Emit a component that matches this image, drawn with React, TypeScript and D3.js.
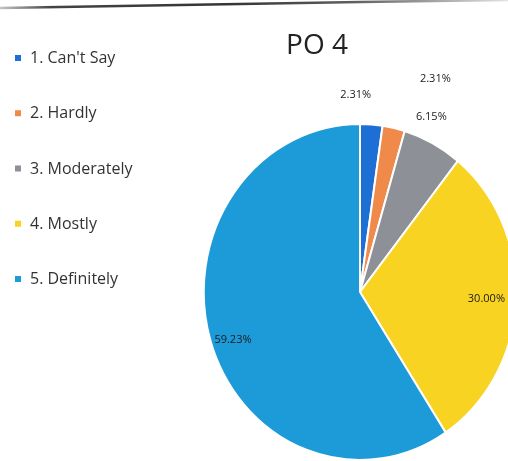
import React from "react";
import * as d3 from "d3";

const categories = ["1. Can't Say", "2. Hardly", "3. Moderately", "4. Mostly", "5. Definitely"];
const values = [2.31, 2.31, 6.15, 30.0, 59.23];
const valueLabels = ["2.31%", "2.31%", "6.15%", "30.00%", "59.23%"];
const colors = ["#1d6fd6", "#ef8a4a", "#8e9098", "#f8d322", "#1d9bd8"];
const title = "PO 4";

// label placement (fraction of radius, angle shift in degrees) — Excel best-fit style
const labelRadiusFrac = [1.18, 1.36, 1.14, 0.81, 0.86];
const labelAngleShift = [-5.5, 8.3, -4.1, 0, -2.4];

const W = 508;
const H = 461;

export default function App() {
  const cx = 360;
  const cy = 292;
  const r = 168;
  const sx = 0.93;

  const pie = d3
    .pie<number>()
    .sort(null)
    .value((d) => d)
    .startAngle(0)
    .endAngle(2 * Math.PI);
  const arcs = pie(values);
  const arc = d3.arc<d3.PieArcDatum<number>>().innerRadius(0).outerRadius(r);

  const legendY = d3
    .scalePoint<string>()
    .domain(categories)
    .range([63, 284]);

  return (
    <svg
      width={W}
      height={H}
      style={{ position: "absolute", left: 0, top: 0, background: "#fff" }}
      fontFamily="'Open Sans', 'Noto Sans', sans-serif"
    >
      <defs>
        <linearGradient id="topline" x1="0" x2="1" y1="0" y2="0">
          <stop offset="0" stopColor="#bbb" />
          <stop offset="0.1" stopColor="#222" />
          <stop offset="0.45" stopColor="#111" />
          <stop offset="0.7" stopColor="#444" />
          <stop offset="1" stopColor="#ddd" />
        </linearGradient>
        <filter id="blur">
          <feGaussianBlur stdDeviation="0.4" />
        </filter>
      </defs>
      <rect width={W} height={H} fill="#fff" />
      <path d="M0,8 L180,5 L360,2 L508,0" stroke="url(#topline)" strokeWidth={2.5} fill="none" opacity={0.85} />

      <text x={317} y={54} textAnchor="middle" fontSize={28} fill="#222" filter="url(#blur)">
        {title}
      </text>

      {categories.map((c, i) => (
        <g key={c} transform={`translate(0,${legendY(c)})`}>
          <rect x={15} y={-8} width={6} height={6} fill={colors[i]} />
          <text x={30} y={0} fontSize={16} fill="#333" filter="url(#blur)">
            {c}
          </text>
        </g>
      ))}

      <g transform={`translate(${cx},${cy}) scale(${sx},1)`}>
        {arcs.map((a, i) => (
          <path
            key={i}
            d={arc(a) || ""}
            fill={colors[i]}
            stroke="#fff"
            strokeWidth={2}
            vectorEffect="non-scaling-stroke"
          />
        ))}
      </g>

      {arcs.map((a, i) => {
        const mid = (a.startAngle + a.endAngle) / 2 + (labelAngleShift[i] * Math.PI) / 180;
        const lr = r * labelRadiusFrac[i];
        const x = cx + Math.sin(mid) * lr * sx;
        const y = cy - Math.cos(mid) * lr;
        return (
          <text
            key={i}
            x={x}
            y={y}
            dy="0.35em"
            textAnchor="middle"
            fontSize={11}
            fill="#1a1a1a"
            filter="url(#blur)"
          >
            {valueLabels[i]}
          </text>
        );
      })}
    </svg>
  );
}
